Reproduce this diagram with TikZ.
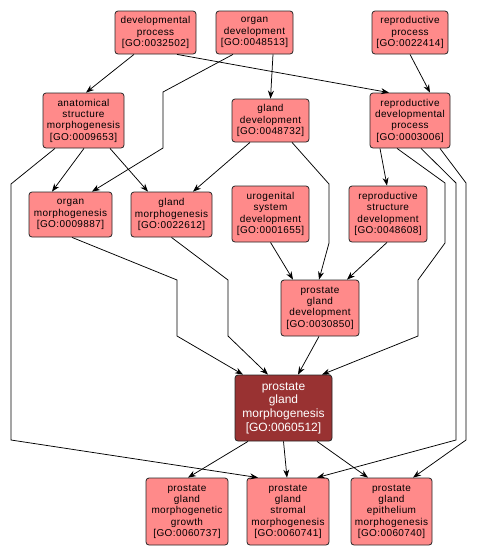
\documentclass[tikz,border=0pt]{standalone}
\usepackage{fontspec}
\setmainfont{Liberation Sans}
\newfontfamily\termofont[LetterSpace=4]{Liberation Sans}
\usetikzlibrary{arrows.meta, positioning, calc, }

\definecolor{corTermo}{RGB}{255,138,138}
\definecolor{corAlvo}{RGB}{153,50,50}

\tikzset{
  termo/.style={draw=black!85, line width=0.8pt, rounded corners=3pt, inner sep=0pt,
    align=center, fill=corTermo, font=\termofont\fontsize{10}{11.3}\selectfont},
  alvo/.style={termo, fill=corAlvo, text=white, font=\rmfamily\fontsize{12}{13.7}\selectfont},
  liga/.style={->, line width=0.75pt, black},
}

\newcommand{\goterm}[6]{%
  % #1 = nome, #2 = x, #3 = y, #4 = largura, #5 = altura, #6 = texto
  \node[termo, minimum width=#4pt, minimum height=#5pt] (#1) at (#2,#3) {#6};
}

\begin{document}
\begin{tikzpicture}[x=1pt, y=-1pt, >={Stealth[length=8pt, width=6pt]}]
    \fill[white] (0,0) rectangle (477,558);
    \useasboundingbox (0,0) rectangle (477,558);

    % linha de cima
    \goterm{devproc}{155.5}{32.5}{81}{43}{developmental\\process\\{[GO:0032502]}}
    \goterm{organdev}{254.5}{32.5}{77}{43}{organ\\development\\{[GO:0048513]}}
    \goterm{reproproc}{410}{32.5}{76}{43}{reproductive\\process\\{[GO:0022414]}}

    \goterm{anat}{83.5}{120.5}{81}{55}{anatomical\\structure\\morphogenesis\\{[GO:0009653]}}
    \goterm{glanddev}{270.5}{120.5}{77}{43}{gland\\development\\{[GO:0048732]}}
    \goterm{reprodev}{410}{120.5}{80}{55}{reproductive\\developmental\\process\\{[GO:0003006]}}

    \goterm{organmorph}{70.5}{214.5}{83}{45}{organ\\morphogenesis\\{[GO:0009887]}}
    \goterm{glandmorph}{171.5}{214.5}{81}{45}{gland\\morphogenesis\\{[GO:0022612]}}
    \goterm{urogen}{270.5}{214}{77}{56}{urogenital\\system\\development\\{[GO:0001655]}}
    \goterm{reprostruct}{388}{214}{78}{56}{reproductive\\structure\\development\\{[GO:0048608]}}

    \goterm{prostdev}{320}{308}{78}{56}{prostate\\gland\\development\\{[GO:0030850]}}

    % termo principal
    \node[alvo, minimum width=97pt, minimum height=66pt] (pgm) at (283.5,408)
      {prostate\\gland\\morphogenesis\\{[GO:0060512]}};

    \goterm{pgmg}{187}{511.5}{82}{67}{prostate\\gland\\morphogenetic\\growth\\{[GO:0060737]}}
    \goterm{pgsm}{288}{511.5}{82}{67}{prostate\\gland\\stromal\\morphogenesis\\{[GO:0060741]}}
    \goterm{pgem}{391.5}{511.5}{81}{67}{prostate\\gland\\epithelium\\morphogenesis\\{[GO:0060740]}}

    % ligações
    \draw[liga] ([xshift=-21.5pt]devproc.south) -- ([xshift=2.5pt]anat.north);
    \draw[liga] ([xshift=21.5pt]devproc.south) -- ([xshift=-21pt]reprodev.north);
    \draw[liga] ([xshift=18.5pt]organdev.south) -- (glanddev.north);
    \draw[liga] ([xshift=-21.5pt]organdev.south) -- (163,92) -- (163,148) -- ([xshift=21.5pt]organmorph.north);
    \draw[liga] (reproproc.south) -- ([xshift=20pt]reprodev.north);

    \draw[liga] ([xshift=0.5pt]anat.south) -- ([xshift=-18.5pt]organmorph.north);
    \draw[liga] ([xshift=26.5pt]anat.south) -- ([xshift=-23.5pt]glandmorph.north);
    \draw[liga] ([xshift=-28.5pt]anat.south) -- (11,184) -- (11,440) -- ([xshift=-30pt]pgsm.north);

    \draw[liga] ([xshift=-20.5pt]glanddev.south) -- ([xshift=21.5pt]glandmorph.north);
    \draw[liga] ([xshift=21.5pt]glanddev.south) -- (329,184) -- (329,243) -- ([xshift=-1pt]prostdev.north);

    \draw[liga] ([xshift=-30pt]reprodev.south) -- ([xshift=-1pt]reprostruct.north);
    \draw[liga] ([xshift=-13pt]reprodev.south) -- (445,183) -- (445,243) -- (418,280) -- (418,336) -- ([xshift=38.5pt]pgm.north);
    \draw[liga] ([xshift=11pt]reprodev.south) -- (456,183) -- (456,440) -- ([xshift=29pt]pgsm.north);
    \draw[liga] ([xshift=30pt]reprodev.south) -- (466,183) -- (466,440) -- ([xshift=21.5pt]pgem.north);

    \draw[liga] (urogen.south) -- ([xshift=-27pt]prostdev.north);
    \draw[liga] ([xshift=-1pt]reprostruct.south) -- ([xshift=27pt]prostdev.north);

    \draw[liga] ([xshift=1.5pt]organmorph.south) -- (177,280) -- (177,336) -- ([xshift=-40.5pt]pgm.north);
    \draw[liga] (glandmorph.south) -- (228,280) -- (228,336) -- ([xshift=-15.5pt]pgm.north);
    \draw[liga] ([xshift=-1pt]prostdev.south) -- ([xshift=14.5pt]pgm.north);

    \draw[liga] ([xshift=-35.5pt]pgm.south) -- ([xshift=1pt]pgmg.north);
    \draw[liga] (pgm.south) -- ([xshift=-1pt]pgsm.north);
    \draw[liga] ([xshift=33.5pt]pgm.south) -- ([xshift=-23.5pt]pgem.north);
\end{tikzpicture}
\end{document}
